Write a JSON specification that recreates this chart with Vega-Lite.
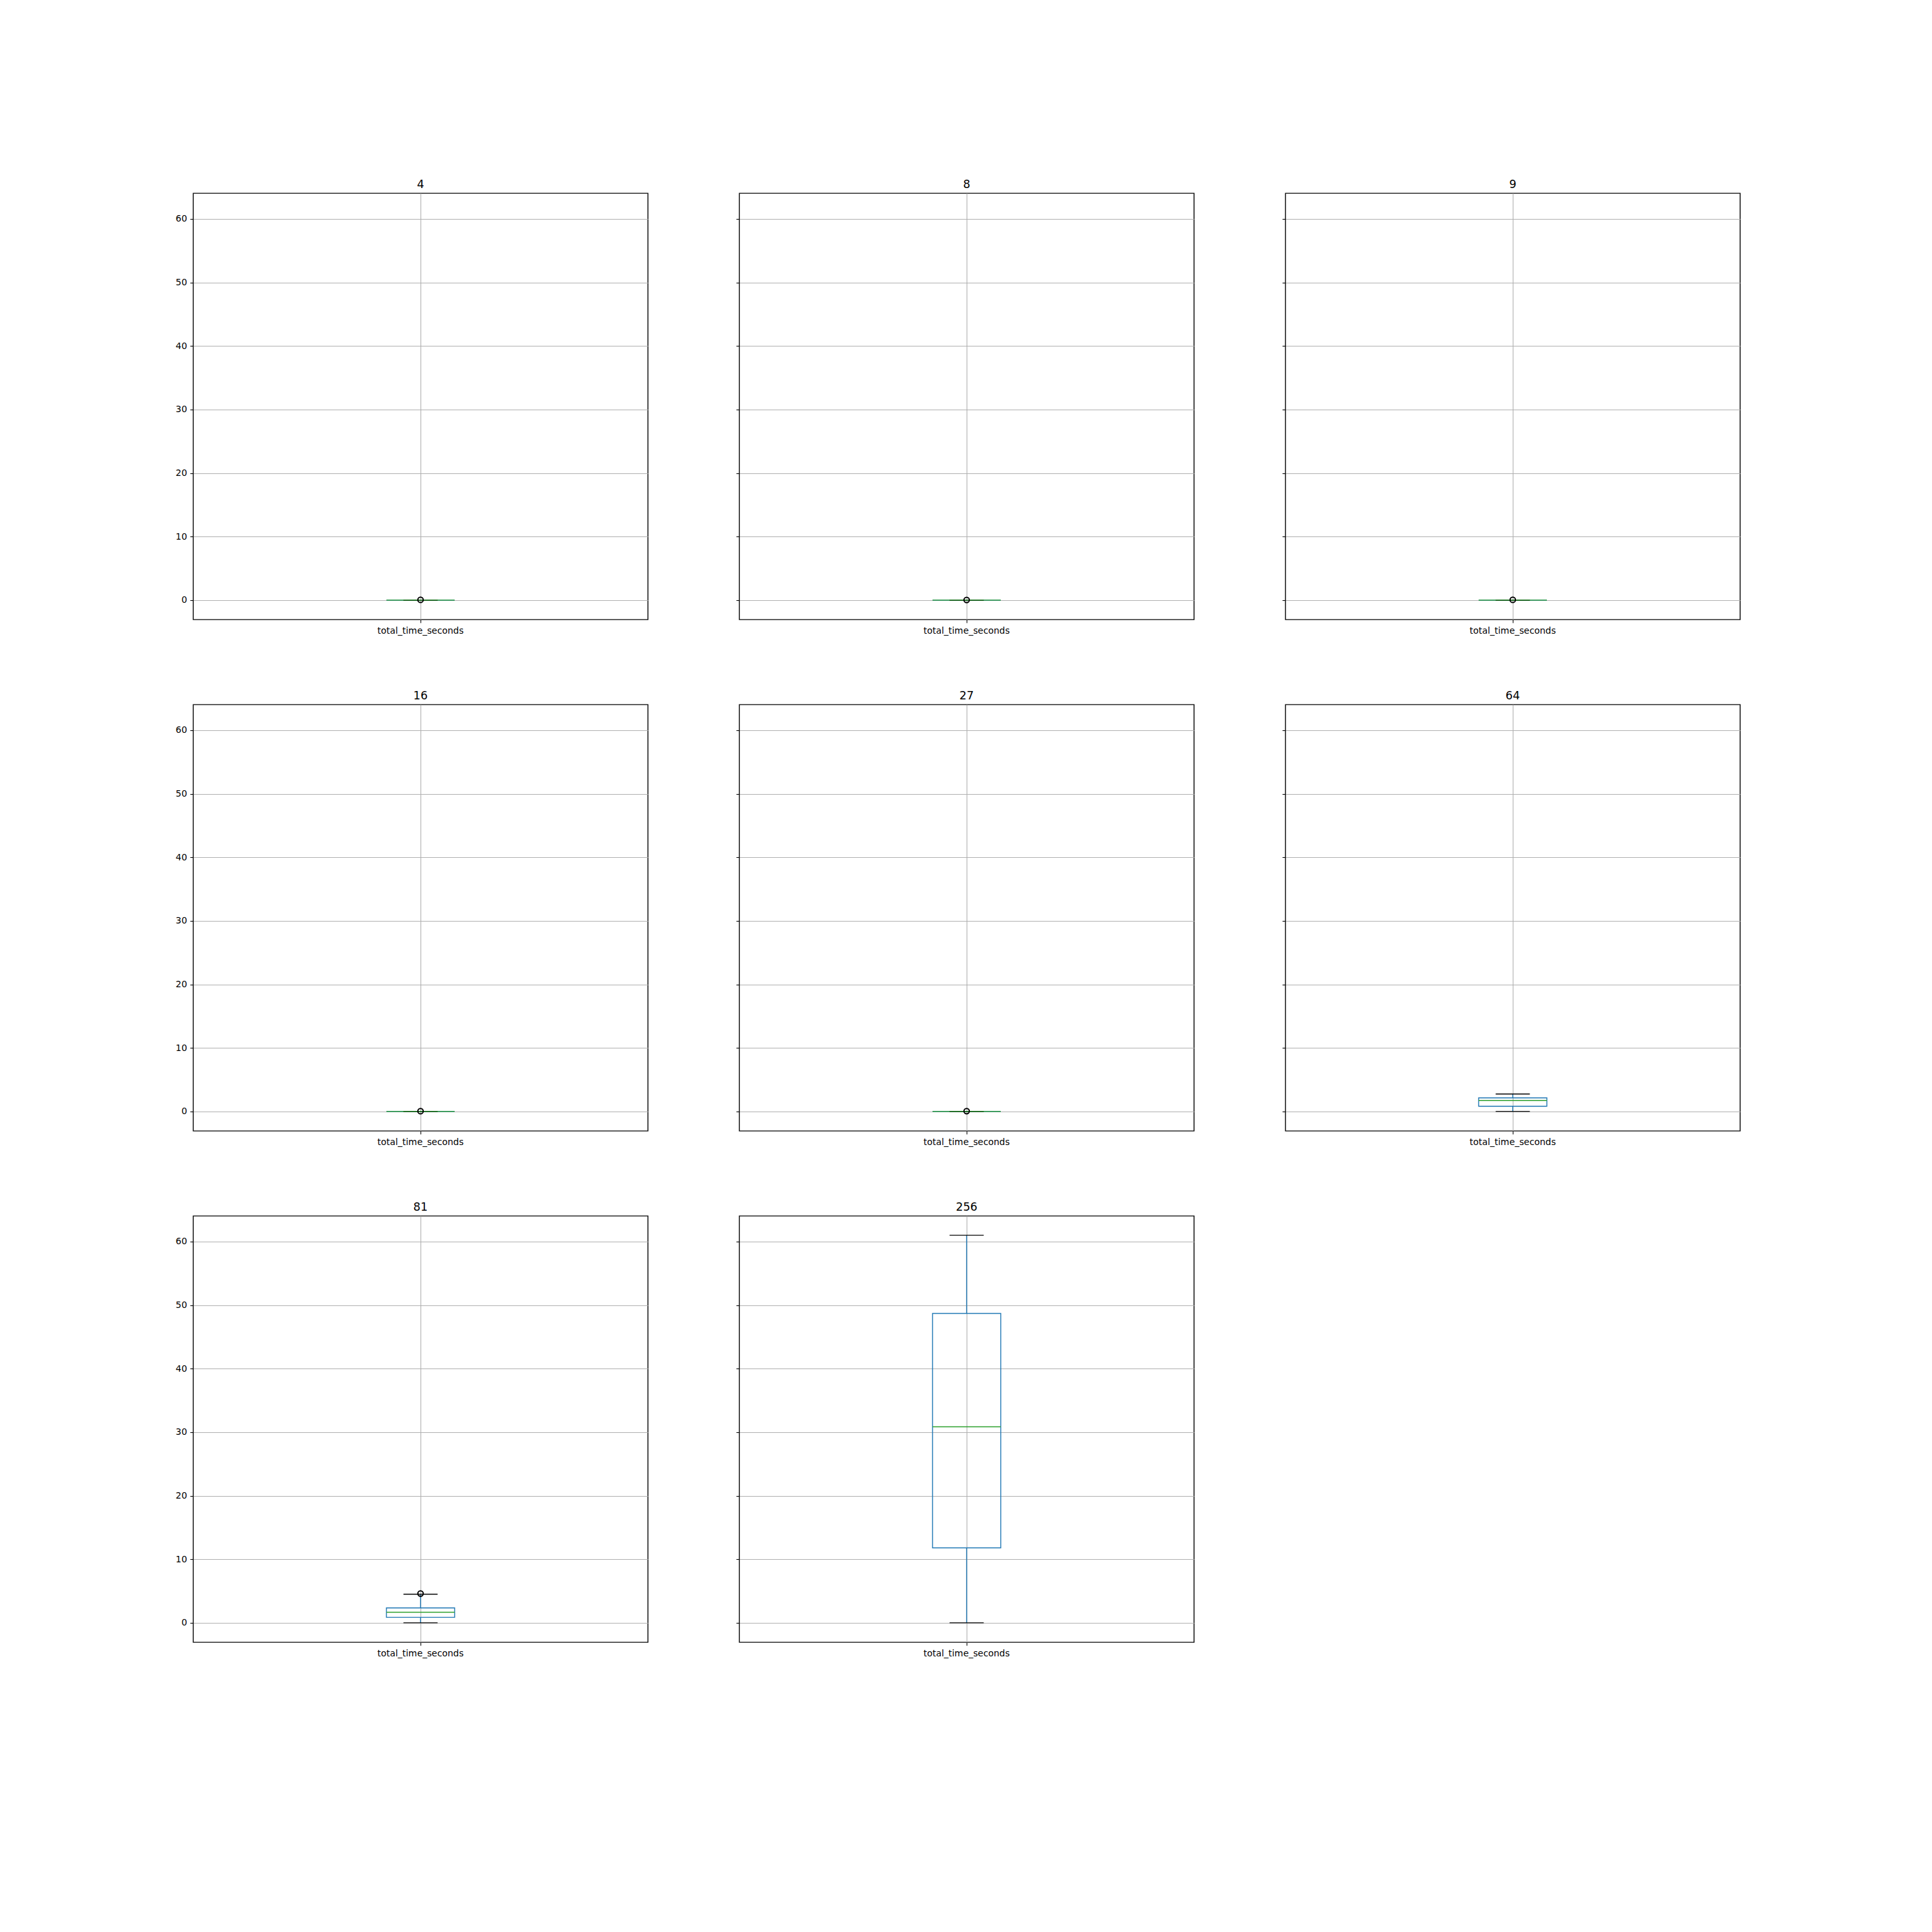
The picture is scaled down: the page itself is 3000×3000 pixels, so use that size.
{
  "$schema": "https://vega.github.io/schema/vega-lite/v6.json",
  "background": "white",
  "padding": {"left": 271, "top": 276, "right": 10, "bottom": 10},
  "data": {"values": [
    {"group": 4, "variable": "total_time_seconds", "lower": 0, "q1": 0, "median": 0, "q3": 0, "upper": 0, "flier": 0.05},
    {"group": 8, "variable": "total_time_seconds", "lower": 0, "q1": 0, "median": 0, "q3": 0, "upper": 0, "flier": 0.03},
    {"group": 9, "variable": "total_time_seconds", "lower": 0, "q1": 0, "median": 0, "q3": 0, "upper": 0, "flier": 0.05},
    {"group": 16, "variable": "total_time_seconds", "lower": 0, "q1": 0, "median": 0, "q3": 0, "upper": 0, "flier": 0.05},
    {"group": 27, "variable": "total_time_seconds", "lower": 0, "q1": 0, "median": 0, "q3": 0, "upper": 0, "flier": 0.06},
    {"group": 64, "variable": "total_time_seconds", "lower": 0, "q1": 0.83, "median": 1.74, "q3": 2.15, "upper": 2.75, "flier": null},
    {"group": 81, "variable": "total_time_seconds", "lower": 0, "q1": 0.86, "median": 1.67, "q3": 2.35, "upper": 4.5, "flier": 4.6},
    {"group": 256, "variable": "total_time_seconds", "lower": 0, "q1": 11.8, "median": 30.85, "q3": 48.7, "upper": 61, "flier": null}
  ]},
  "columns": 3,
  "spacing": {"row": 132, "column": 142},
  "bounds": "flush",
  "concat": [
    {"width": 706, "height": 662, "title": {"text": "4"}, "transform": [{"filter": "datum.group == 4"}],
     "encoding": {"x": {"field": "variable", "type": "nominal", "title": null, "scale": {"paddingInner": 0, "paddingOuter": 0}, "axis": {"labelAngle": 0, "bandPosition": 0.5}}},
     "layer": [
      {"mark": {"type": "rule", "color": "#1f77b4", "strokeWidth": 1.4, "opacity": 1}, "encoding": {"y": {"field": "lower", "type": "quantitative", "title": null, "scale": {"domain": [-3.05, 64.05], "nice": false, "zero": false}, "axis": {"values": [0, 10, 20, 30, 40, 50, 60]}}, "y2": {"field": "q1"}}},
      {"mark": {"type": "rule", "color": "#1f77b4", "strokeWidth": 1.4, "opacity": 1}, "encoding": {"y": {"field": "q3", "type": "quantitative", "title": null}, "y2": {"field": "upper"}}},
      {"mark": {"type": "bar", "width": {"band": 0.15}, "filled": false, "color": "#1f77b4", "strokeWidth": 1.4, "opacity": 1}, "encoding": {"y": {"field": "q1", "type": "quantitative", "title": null}, "y2": {"field": "q3"}}},
      {"mark": {"type": "tick", "color": "black", "size": 53, "thickness": 1.4, "opacity": 1}, "encoding": {"y": {"field": "lower", "type": "quantitative", "title": null}}},
      {"mark": {"type": "tick", "color": "black", "size": 53, "thickness": 1.4, "opacity": 1}, "encoding": {"y": {"field": "upper", "type": "quantitative", "title": null}}},
      {"mark": {"type": "tick", "color": "#2ca02c", "size": 106, "thickness": 1.4, "opacity": 1}, "encoding": {"y": {"field": "median", "type": "quantitative", "title": null}}},
      {"mark": {"type": "point", "shape": "circle", "filled": false, "color": "black", "size": 70, "strokeWidth": 2, "opacity": 1}, "encoding": {"y": {"field": "flier", "type": "quantitative", "title": null}}}
     ]},
    {"width": 706, "height": 662, "title": {"text": "8"}, "transform": [{"filter": "datum.group == 8"}],
     "encoding": {"x": {"field": "variable", "type": "nominal", "title": null, "scale": {"paddingInner": 0, "paddingOuter": 0}, "axis": {"labelAngle": 0, "bandPosition": 0.5}}},
     "layer": [
      {"mark": {"type": "rule", "color": "#1f77b4", "strokeWidth": 1.4, "opacity": 1}, "encoding": {"y": {"field": "lower", "type": "quantitative", "title": null, "scale": {"domain": [-3.05, 64.05], "nice": false, "zero": false}, "axis": {"values": [0, 10, 20, 30, 40, 50, 60], "labels": false}}, "y2": {"field": "q1"}}},
      {"mark": {"type": "rule", "color": "#1f77b4", "strokeWidth": 1.4, "opacity": 1}, "encoding": {"y": {"field": "q3", "type": "quantitative", "title": null}, "y2": {"field": "upper"}}},
      {"mark": {"type": "bar", "width": {"band": 0.15}, "filled": false, "color": "#1f77b4", "strokeWidth": 1.4, "opacity": 1}, "encoding": {"y": {"field": "q1", "type": "quantitative", "title": null}, "y2": {"field": "q3"}}},
      {"mark": {"type": "tick", "color": "black", "size": 53, "thickness": 1.4, "opacity": 1}, "encoding": {"y": {"field": "lower", "type": "quantitative", "title": null}}},
      {"mark": {"type": "tick", "color": "black", "size": 53, "thickness": 1.4, "opacity": 1}, "encoding": {"y": {"field": "upper", "type": "quantitative", "title": null}}},
      {"mark": {"type": "tick", "color": "#2ca02c", "size": 106, "thickness": 1.4, "opacity": 1}, "encoding": {"y": {"field": "median", "type": "quantitative", "title": null}}},
      {"mark": {"type": "point", "shape": "circle", "filled": false, "color": "black", "size": 70, "strokeWidth": 2, "opacity": 1}, "encoding": {"y": {"field": "flier", "type": "quantitative", "title": null}}}
     ]},
    {"width": 706, "height": 662, "title": {"text": "9"}, "transform": [{"filter": "datum.group == 9"}],
     "encoding": {"x": {"field": "variable", "type": "nominal", "title": null, "scale": {"paddingInner": 0, "paddingOuter": 0}, "axis": {"labelAngle": 0, "bandPosition": 0.5}}},
     "layer": [
      {"mark": {"type": "rule", "color": "#1f77b4", "strokeWidth": 1.4, "opacity": 1}, "encoding": {"y": {"field": "lower", "type": "quantitative", "title": null, "scale": {"domain": [-3.05, 64.05], "nice": false, "zero": false}, "axis": {"values": [0, 10, 20, 30, 40, 50, 60], "labels": false}}, "y2": {"field": "q1"}}},
      {"mark": {"type": "rule", "color": "#1f77b4", "strokeWidth": 1.4, "opacity": 1}, "encoding": {"y": {"field": "q3", "type": "quantitative", "title": null}, "y2": {"field": "upper"}}},
      {"mark": {"type": "bar", "width": {"band": 0.15}, "filled": false, "color": "#1f77b4", "strokeWidth": 1.4, "opacity": 1}, "encoding": {"y": {"field": "q1", "type": "quantitative", "title": null}, "y2": {"field": "q3"}}},
      {"mark": {"type": "tick", "color": "black", "size": 53, "thickness": 1.4, "opacity": 1}, "encoding": {"y": {"field": "lower", "type": "quantitative", "title": null}}},
      {"mark": {"type": "tick", "color": "black", "size": 53, "thickness": 1.4, "opacity": 1}, "encoding": {"y": {"field": "upper", "type": "quantitative", "title": null}}},
      {"mark": {"type": "tick", "color": "#2ca02c", "size": 106, "thickness": 1.4, "opacity": 1}, "encoding": {"y": {"field": "median", "type": "quantitative", "title": null}}},
      {"mark": {"type": "point", "shape": "circle", "filled": false, "color": "black", "size": 70, "strokeWidth": 2, "opacity": 1}, "encoding": {"y": {"field": "flier", "type": "quantitative", "title": null}}}
     ]},
    {"width": 706, "height": 662, "title": {"text": "16"}, "transform": [{"filter": "datum.group == 16"}],
     "encoding": {"x": {"field": "variable", "type": "nominal", "title": null, "scale": {"paddingInner": 0, "paddingOuter": 0}, "axis": {"labelAngle": 0, "bandPosition": 0.5}}},
     "layer": [
      {"mark": {"type": "rule", "color": "#1f77b4", "strokeWidth": 1.4, "opacity": 1}, "encoding": {"y": {"field": "lower", "type": "quantitative", "title": null, "scale": {"domain": [-3.05, 64.05], "nice": false, "zero": false}, "axis": {"values": [0, 10, 20, 30, 40, 50, 60]}}, "y2": {"field": "q1"}}},
      {"mark": {"type": "rule", "color": "#1f77b4", "strokeWidth": 1.4, "opacity": 1}, "encoding": {"y": {"field": "q3", "type": "quantitative", "title": null}, "y2": {"field": "upper"}}},
      {"mark": {"type": "bar", "width": {"band": 0.15}, "filled": false, "color": "#1f77b4", "strokeWidth": 1.4, "opacity": 1}, "encoding": {"y": {"field": "q1", "type": "quantitative", "title": null}, "y2": {"field": "q3"}}},
      {"mark": {"type": "tick", "color": "black", "size": 53, "thickness": 1.4, "opacity": 1}, "encoding": {"y": {"field": "lower", "type": "quantitative", "title": null}}},
      {"mark": {"type": "tick", "color": "black", "size": 53, "thickness": 1.4, "opacity": 1}, "encoding": {"y": {"field": "upper", "type": "quantitative", "title": null}}},
      {"mark": {"type": "tick", "color": "#2ca02c", "size": 106, "thickness": 1.4, "opacity": 1}, "encoding": {"y": {"field": "median", "type": "quantitative", "title": null}}},
      {"mark": {"type": "point", "shape": "circle", "filled": false, "color": "black", "size": 70, "strokeWidth": 2, "opacity": 1}, "encoding": {"y": {"field": "flier", "type": "quantitative", "title": null}}}
     ]},
    {"width": 706, "height": 662, "title": {"text": "27"}, "transform": [{"filter": "datum.group == 27"}],
     "encoding": {"x": {"field": "variable", "type": "nominal", "title": null, "scale": {"paddingInner": 0, "paddingOuter": 0}, "axis": {"labelAngle": 0, "bandPosition": 0.5}}},
     "layer": [
      {"mark": {"type": "rule", "color": "#1f77b4", "strokeWidth": 1.4, "opacity": 1}, "encoding": {"y": {"field": "lower", "type": "quantitative", "title": null, "scale": {"domain": [-3.05, 64.05], "nice": false, "zero": false}, "axis": {"values": [0, 10, 20, 30, 40, 50, 60], "labels": false}}, "y2": {"field": "q1"}}},
      {"mark": {"type": "rule", "color": "#1f77b4", "strokeWidth": 1.4, "opacity": 1}, "encoding": {"y": {"field": "q3", "type": "quantitative", "title": null}, "y2": {"field": "upper"}}},
      {"mark": {"type": "bar", "width": {"band": 0.15}, "filled": false, "color": "#1f77b4", "strokeWidth": 1.4, "opacity": 1}, "encoding": {"y": {"field": "q1", "type": "quantitative", "title": null}, "y2": {"field": "q3"}}},
      {"mark": {"type": "tick", "color": "black", "size": 53, "thickness": 1.4, "opacity": 1}, "encoding": {"y": {"field": "lower", "type": "quantitative", "title": null}}},
      {"mark": {"type": "tick", "color": "black", "size": 53, "thickness": 1.4, "opacity": 1}, "encoding": {"y": {"field": "upper", "type": "quantitative", "title": null}}},
      {"mark": {"type": "tick", "color": "#2ca02c", "size": 106, "thickness": 1.4, "opacity": 1}, "encoding": {"y": {"field": "median", "type": "quantitative", "title": null}}},
      {"mark": {"type": "point", "shape": "circle", "filled": false, "color": "black", "size": 70, "strokeWidth": 2, "opacity": 1}, "encoding": {"y": {"field": "flier", "type": "quantitative", "title": null}}}
     ]},
    {"width": 706, "height": 662, "title": {"text": "64"}, "transform": [{"filter": "datum.group == 64"}],
     "encoding": {"x": {"field": "variable", "type": "nominal", "title": null, "scale": {"paddingInner": 0, "paddingOuter": 0}, "axis": {"labelAngle": 0, "bandPosition": 0.5}}},
     "layer": [
      {"mark": {"type": "rule", "color": "#1f77b4", "strokeWidth": 1.4, "opacity": 1}, "encoding": {"y": {"field": "lower", "type": "quantitative", "title": null, "scale": {"domain": [-3.05, 64.05], "nice": false, "zero": false}, "axis": {"values": [0, 10, 20, 30, 40, 50, 60], "labels": false}}, "y2": {"field": "q1"}}},
      {"mark": {"type": "rule", "color": "#1f77b4", "strokeWidth": 1.4, "opacity": 1}, "encoding": {"y": {"field": "q3", "type": "quantitative", "title": null}, "y2": {"field": "upper"}}},
      {"mark": {"type": "bar", "width": {"band": 0.15}, "filled": false, "color": "#1f77b4", "strokeWidth": 1.4, "opacity": 1}, "encoding": {"y": {"field": "q1", "type": "quantitative", "title": null}, "y2": {"field": "q3"}}},
      {"mark": {"type": "tick", "color": "black", "size": 53, "thickness": 1.4, "opacity": 1}, "encoding": {"y": {"field": "lower", "type": "quantitative", "title": null}}},
      {"mark": {"type": "tick", "color": "black", "size": 53, "thickness": 1.4, "opacity": 1}, "encoding": {"y": {"field": "upper", "type": "quantitative", "title": null}}},
      {"mark": {"type": "tick", "color": "#2ca02c", "size": 106, "thickness": 1.4, "opacity": 1}, "encoding": {"y": {"field": "median", "type": "quantitative", "title": null}}},
      {"mark": {"type": "point", "shape": "circle", "filled": false, "color": "black", "size": 70, "strokeWidth": 2, "opacity": 1}, "encoding": {"y": {"field": "flier", "type": "quantitative", "title": null}}}
     ]},
    {"width": 706, "height": 662, "title": {"text": "81"}, "transform": [{"filter": "datum.group == 81"}],
     "encoding": {"x": {"field": "variable", "type": "nominal", "title": null, "scale": {"paddingInner": 0, "paddingOuter": 0}, "axis": {"labelAngle": 0, "bandPosition": 0.5}}},
     "layer": [
      {"mark": {"type": "rule", "color": "#1f77b4", "strokeWidth": 1.4, "opacity": 1}, "encoding": {"y": {"field": "lower", "type": "quantitative", "title": null, "scale": {"domain": [-3.05, 64.05], "nice": false, "zero": false}, "axis": {"values": [0, 10, 20, 30, 40, 50, 60]}}, "y2": {"field": "q1"}}},
      {"mark": {"type": "rule", "color": "#1f77b4", "strokeWidth": 1.4, "opacity": 1}, "encoding": {"y": {"field": "q3", "type": "quantitative", "title": null}, "y2": {"field": "upper"}}},
      {"mark": {"type": "bar", "width": {"band": 0.15}, "filled": false, "color": "#1f77b4", "strokeWidth": 1.4, "opacity": 1}, "encoding": {"y": {"field": "q1", "type": "quantitative", "title": null}, "y2": {"field": "q3"}}},
      {"mark": {"type": "tick", "color": "black", "size": 53, "thickness": 1.4, "opacity": 1}, "encoding": {"y": {"field": "lower", "type": "quantitative", "title": null}}},
      {"mark": {"type": "tick", "color": "black", "size": 53, "thickness": 1.4, "opacity": 1}, "encoding": {"y": {"field": "upper", "type": "quantitative", "title": null}}},
      {"mark": {"type": "tick", "color": "#2ca02c", "size": 106, "thickness": 1.4, "opacity": 1}, "encoding": {"y": {"field": "median", "type": "quantitative", "title": null}}},
      {"mark": {"type": "point", "shape": "circle", "filled": false, "color": "black", "size": 70, "strokeWidth": 2, "opacity": 1}, "encoding": {"y": {"field": "flier", "type": "quantitative", "title": null}}}
     ]},
    {"width": 706, "height": 662, "title": {"text": "256"}, "transform": [{"filter": "datum.group == 256"}],
     "encoding": {"x": {"field": "variable", "type": "nominal", "title": null, "scale": {"paddingInner": 0, "paddingOuter": 0}, "axis": {"labelAngle": 0, "bandPosition": 0.5}}},
     "layer": [
      {"mark": {"type": "rule", "color": "#1f77b4", "strokeWidth": 1.4, "opacity": 1}, "encoding": {"y": {"field": "lower", "type": "quantitative", "title": null, "scale": {"domain": [-3.05, 64.05], "nice": false, "zero": false}, "axis": {"values": [0, 10, 20, 30, 40, 50, 60], "labels": false}}, "y2": {"field": "q1"}}},
      {"mark": {"type": "rule", "color": "#1f77b4", "strokeWidth": 1.4, "opacity": 1}, "encoding": {"y": {"field": "q3", "type": "quantitative", "title": null}, "y2": {"field": "upper"}}},
      {"mark": {"type": "bar", "width": {"band": 0.15}, "filled": false, "color": "#1f77b4", "strokeWidth": 1.4, "opacity": 1}, "encoding": {"y": {"field": "q1", "type": "quantitative", "title": null}, "y2": {"field": "q3"}}},
      {"mark": {"type": "tick", "color": "black", "size": 53, "thickness": 1.4, "opacity": 1}, "encoding": {"y": {"field": "lower", "type": "quantitative", "title": null}}},
      {"mark": {"type": "tick", "color": "black", "size": 53, "thickness": 1.4, "opacity": 1}, "encoding": {"y": {"field": "upper", "type": "quantitative", "title": null}}},
      {"mark": {"type": "tick", "color": "#2ca02c", "size": 106, "thickness": 1.4, "opacity": 1}, "encoding": {"y": {"field": "median", "type": "quantitative", "title": null}}},
      {"mark": {"type": "point", "shape": "circle", "filled": false, "color": "black", "size": 70, "strokeWidth": 2, "opacity": 1}, "encoding": {"y": {"field": "flier", "type": "quantitative", "title": null}}}
     ]}
  ],
  "config": {
    "view": {"stroke": "black", "strokeWidth": 1.4},
    "axis": {"labelFont": "DejaVu Sans", "labelFontSize": 13.9, "labelColor": "black", "tickColor": "black", "tickSize": 5, "tickWidth": 1.1, "labelPadding": 5, "domain": false, "grid": true, "gridColor": "#b0b0b0", "gridWidth": 1.1},
    "title": {"font": "DejaVu Sans", "fontSize": 17.5, "fontWeight": "normal", "color": "black", "offset": 5, "anchor": "middle"}
  }
}
